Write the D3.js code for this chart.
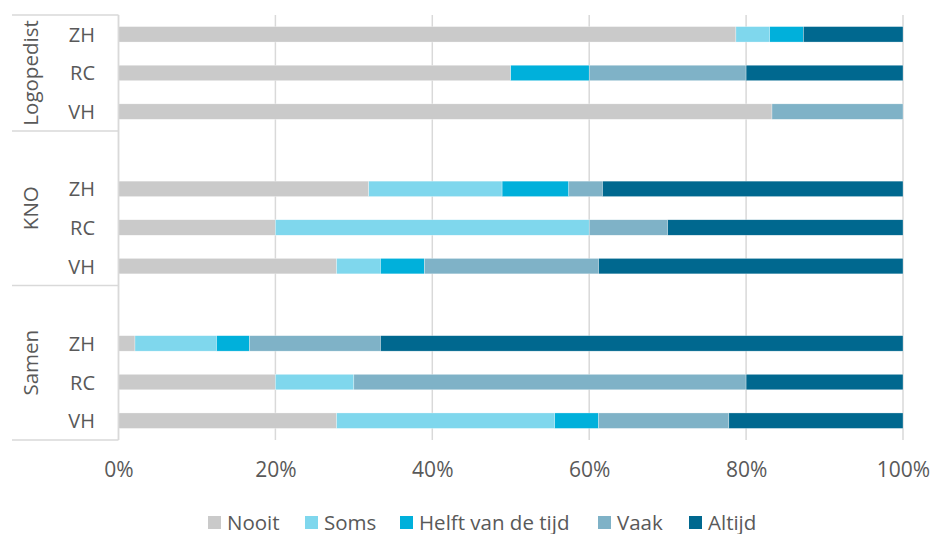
<!DOCTYPE html>
<html>
<head>
<meta charset="utf-8">
<script src="https://cdn.jsdelivr.net/npm/d3@7"></script>
<style>
  html, body { margin: 0; padding: 0; background: #fff; }
  svg { display: block; font-family: "Open Sans", "Noto Sans", sans-serif; }
</style>
</head>
<body>
<svg id="chart" width="933" height="534"></svg>
<script>
// Rows from top to bottom; empty label rows are spacers between groups.
const rowGroups = ["Logopedist", "Logopedist", "Logopedist",
                   "KNO", "KNO", "KNO", "KNO",
                   "Samen", "Samen", "Samen", "Samen"];
const rowLabels = ["ZH", "RC", "VH", "", "ZH", "RC", "VH", "", "ZH", "RC", "VH"];
const groupNames = ["Logopedist", "KNO", "Samen"];

// Share of answers (%) per row
const nooit  = [78.7, 50, 83.3, 0, 31.9, 20, 27.8, 0,  2.1, 20, 27.8];
const soms   = [ 4.3,  0,  0,   0, 17.0, 40,  5.6, 0, 10.4, 10, 27.8];
const helft  = [ 4.3, 10,  0,   0,  8.5,  0,  5.6, 0,  4.2,  0,  5.6];
const vaak   = [ 0,   20, 16.7, 0,  4.3, 10, 22.2, 0, 16.7, 50, 16.6];
const altijd = [12.7, 20,  0,   0, 38.3, 30, 38.8, 0, 66.6, 20, 22.2];

const seriesNames = ["Nooit", "Soms", "Helft van de tijd", "Vaak", "Altijd"];
const seriesValues = [nooit, soms, helft, vaak, altijd];
const seriesColors = ["#cacaca", "#7fd7ed", "#00b0db", "#7fb2c7", "#00688f"];
const xTicks = [0, 0.2, 0.4, 0.6, 0.8, 1];

const svg = d3.select("#chart");
const textColor = "#595959";
const lineColor = "#d9d9d9";

const rows = rowLabels.map((label, i) => {
  const r = { idx: i, label, group: rowGroups[i] };
  seriesNames.forEach((s, k) => { r[s] = seriesValues[k][i]; });
  return r;
});

const plot = { left: 118.5, right: 903, top: 15, bottom: 440 };

const x = d3.scaleLinear().domain([0, 1]).range([plot.left, plot.right]);
const y = d3.scaleBand()
  .domain(rows.map(r => r.idx))
  .range([plot.top, plot.bottom])
  .paddingInner(0.6)
  .paddingOuter(0.3);

// Vertical gridlines
svg.append("g")
  .selectAll("line")
  .data(xTicks)
  .join("line")
  .attr("x1", d => x(d)).attr("x2", d => x(d))
  .attr("y1", plot.top).attr("y2", plot.bottom)
  .attr("stroke", lineColor)
  .attr("stroke-width", 1.5);

// Stacked bars (normalised to 100%)
const stacked = d3.stack()
  .keys(seriesNames)
  .offset(d3.stackOffsetExpand)(rows.filter(r => r.label !== ""));

svg.append("g")
  .selectAll("g")
  .data(stacked)
  .join("g")
  .attr("fill", (d, i) => seriesColors[i])
  .selectAll("rect")
  .data(d => d.filter(p => p[1] - p[0] > 0))
  .join("rect")
  .attr("x", p => x(p[0]))
  .attr("width", p => x(p[1]) - x(p[0]))
  .attr("y", p => y(p.data.idx))
  .attr("height", y.bandwidth())
  .attr("stroke", "#fff")
  .attr("stroke-width", 0.5)
  .attr("stroke-opacity", 0.6);

// Category axis line
svg.append("line")
  .attr("x1", plot.left).attr("x2", plot.left)
  .attr("y1", plot.top).attr("y2", plot.bottom)
  .attr("stroke", lineColor).attr("stroke-width", 1.5);

// X tick labels
const xAxis = svg.append("g")
  .attr("transform", `translate(0,${plot.bottom})`)
  .call(d3.axisBottom(x).tickValues(xTicks).tickFormat(d3.format(".0%")).tickSize(0).tickPadding(22));
xAxis.select(".domain").remove();
xAxis.selectAll("text")
  .attr("fill", textColor)
  .style("font-size", "21px")
  .style("font-family", "'Open Sans', sans-serif");

// Row labels
svg.append("g")
  .selectAll("text")
  .data(rows.filter(r => r.label !== ""))
  .join("text")
  .attr("x", 95)
  .attr("y", r => y(r.idx) + y.bandwidth() / 2)
  .attr("text-anchor", "end")
  .attr("dominant-baseline", "central")
  .attr("fill", textColor)
  .style("font-size", "20px")
  .text(r => r.label);

// Group spans, separators and rotated group labels
const step = y.step();
const groupSpans = groupNames.map(g => {
  const idxs = rows.filter(r => r.group === g).map(r => r.idx);
  const y0 = y(d3.min(idxs)) - (step - y.bandwidth()) / 2;
  const y1 = y(d3.max(idxs)) + y.bandwidth() + (step - y.bandwidth()) / 2;
  return { name: g, y0, y1 };
});

const bounds = [groupSpans[0].y0, ...groupSpans.map(s => s.y1)];
svg.append("g")
  .selectAll("line")
  .data(bounds)
  .join("line")
  .attr("x1", 12).attr("x2", plot.left)
  .attr("y1", d => d).attr("y2", d => d)
  .attr("stroke", lineColor)
  .attr("stroke-width", 1.5);

svg.append("g")
  .selectAll("text")
  .data(groupSpans)
  .join("text")
  .attr("transform", s => `translate(30,${(s.y0 + s.y1) / 2}) rotate(-90)`)
  .attr("text-anchor", "middle")
  .attr("dominant-baseline", "central")
  .attr("fill", textColor)
  .style("font-size", "20.5px")
  .text(s => s.name);

// Legend
const legendX = [208, 305, 400, 598, 689];
const legend = svg.append("g")
  .selectAll("g")
  .data(seriesNames)
  .join("g")
  .attr("transform", (d, i) => `translate(${legendX[i]},516)`);
legend.append("rect")
  .attr("width", 13).attr("height", 13)
  .attr("fill", (d, i) => seriesColors[i]);
legend.append("text")
  .attr("x", 19).attr("y", 13.5)
  .attr("fill", textColor)
  .style("font-size", "20.5px")
  .text(d => d);
</script>
</body>
</html>
